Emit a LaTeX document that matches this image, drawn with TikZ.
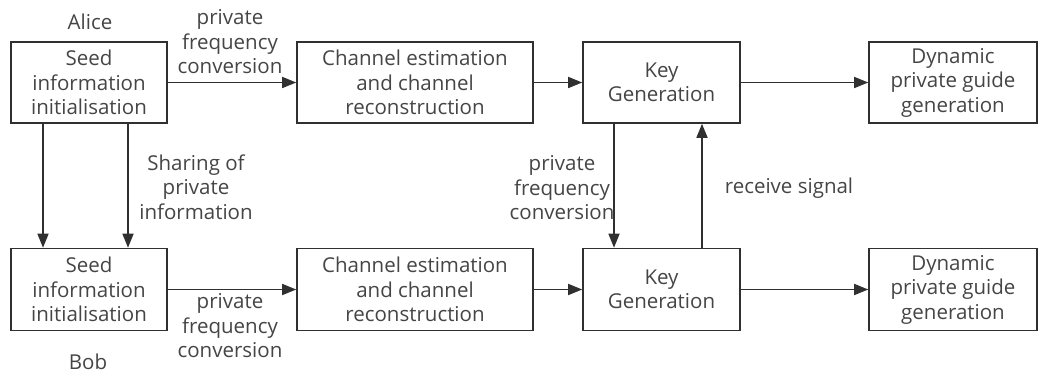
\documentclass[tikz,border=0pt]{standalone}
\usepackage{fontspec}
\setmainfont{Open Sans}
\usetikzlibrary{arrows.meta}
\definecolor{ln}{HTML}{303030}
\definecolor{tx}{HTML}{454545}
\tikzset{
  box/.style={draw=ln, line width=1.6pt, text=tx, align=center, font=\fontsize{20.5}{24.5}\selectfont, inner sep=0pt},
  lbl/.style={text=tx, align=center, font=\fontsize{20.5}{24.5}\selectfont, inner sep=0pt},
  arr/.style={draw=ln, line width=1.6pt, -{Triangle[length=14pt,width=11pt]}},
}
\begin{document}
\begin{tikzpicture}[x=1pt,y=-1pt]
\useasboundingbox (0,0) rectangle (1038,374);
% boxes (top row)
\node[box, minimum width=156pt, minimum height=81pt] (s1) at (89,82.5) {Seed\\information\\initialisation};
\node[box, minimum width=236pt, minimum height=81pt] (c1) at (415,82.5) {Channel estimation\\and channel\\reconstruction};
\node[box, minimum width=157pt, minimum height=81pt] (k1) at (661.5,82.5) {Key\\Generation};
\node[box, minimum width=168pt, minimum height=81pt] (d1) at (953,82.5) {Dynamic\\private guide\\generation};
% bottom row
\node[box, minimum width=156pt, minimum height=82pt] (s2) at (89,289.5) {Seed\\information\\initialisation};
\node[box, minimum width=236pt, minimum height=82pt] (c2) at (415,289.5) {Channel estimation\\and channel\\reconstruction};
\node[box, minimum width=157pt, minimum height=82pt] (k2) at (661.5,289.5) {Key\\Generation};
\node[box, minimum width=168pt, minimum height=82pt] (d2) at (953,289.5) {Dynamic\\private guide\\generation};
% labels
\node[lbl] (alice) at (90,22) {Alice};
\node[lbl] (bob) at (88,362) {Bob};
\node[lbl] (pf1) at (230,42) {private\\frequency\\conversion};
\node[lbl] (pf2) at (230,326) {private\\frequency\\conversion};
\node[lbl] (sh) at (196,187) {Sharing of\\private\\information};
\node[lbl] (pf3) at (562,188) {private\\frequency\\conversion};
\node[lbl] (rs) at (789,188) {receive signal};
% connectors
\draw[arr] (s1.east) -- (c1.west);
\draw[arr] (c1.east) -- (k1.west);
\draw[arr] (k1.east) -- (d1.west);
\draw[arr] (s2.east) -- (c2.west);
\draw[arr] (c2.east) -- (k2.west);
\draw[arr] (k2.east) -- (d2.west);
\draw[arr] (s1.south -| 43,0) -- (s2.north -| 43,0);
\draw[arr] (s1.south -| 128,0) -- (s2.north -| 128,0);
\draw[arr] (k1.south -| 614,0) -- (k2.north -| 614,0);
\draw[arr] (k2.north -| 702,0) -- (k1.south -| 702,0);
\end{tikzpicture}
\end{document}
